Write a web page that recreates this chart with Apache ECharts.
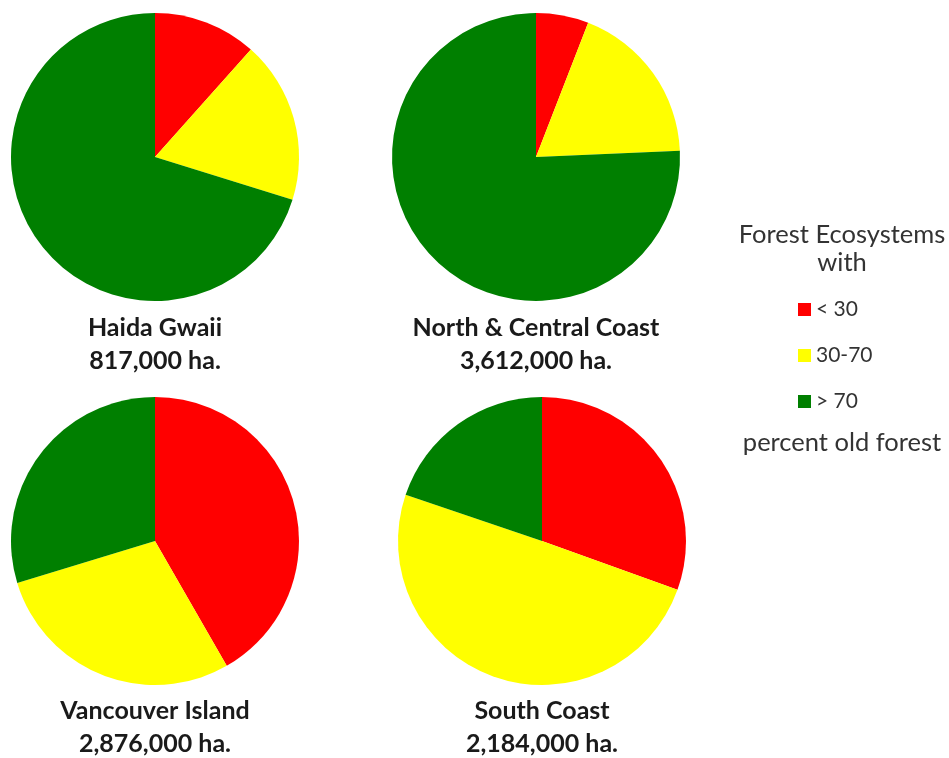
<!DOCTYPE html>
<html><head><meta charset="utf-8">
<script src="https://cdn.jsdelivr.net/npm/echarts@6/dist/echarts.min.js"></script>
<style>html,body{margin:0;padding:0;background:#fff}#c{width:949px;height:758px}</style>
</head><body><div id="c"></div>
<script>
const categories = ['< 30', '30-70', '> 70'];
const colors = ['#ff0000', '#ffff00', '#007f00'];
const regions = ['Haida Gwaii', 'North & Central Coast', 'Vancouver Island', 'South Coast'];
const areas = ['817,000 ha.', '3,612,000 ha.', '2,876,000 ha.', '2,184,000 ha.'];
const haidaGwaii = [11.6, 18.2, 70.2];
const northCentral = [5.9, 18.4, 75.7];
const vancouverIsland = [41.7, 28.6, 29.7];
const southCoast = [30.5, 49.7, 19.8];
const allValues = [haidaGwaii, northCentral, vancouverIsland, southCoast];

const centers = [[155, 157], [536, 157], [155, 541], [542, 541]];
const labelY = [[328, 361], [328, 361], [711, 744], [711, 744]];
const FONT = 'Lato, "Open Sans", sans-serif';

const series = allValues.map((vals, i) => ({
  type: 'pie', name: regions[i], center: centers[i], radius: 144,
  startAngle: 90, clockwise: true, animation: false,
  label: { show: false }, labelLine: { show: false },
  itemStyle: { borderWidth: 0 },
  emphasis: { disabled: true },
  data: vals.map((v, j) => ({ name: categories[j], value: v, itemStyle: { color: colors[j] } }))
}));

const graphics = [];
regions.forEach((r, i) => {
  graphics.push({ type: 'text', x: centers[i][0], y: labelY[i][0],
    style: { text: r, fontFamily: FONT, fontWeight: 'bold', fontSize: 25, fill: '#1a1a1a', textAlign: 'center', textVerticalAlign: 'middle' } });
  graphics.push({ type: 'text', x: centers[i][0], y: labelY[i][1],
    style: { text: areas[i], fontFamily: FONT, fontWeight: 'bold', fontSize: 25, fill: '#1a1a1a', textAlign: 'center', textVerticalAlign: 'middle' } });
});
[['Forest Ecosystems', 235], ['with', 263], ['percent old forest', 443]].forEach(([t, y]) => {
  graphics.push({ type: 'text', x: 842, y: y,
    style: { text: t, fontFamily: FONT, fontSize: 25.5, fill: '#333', textAlign: 'center', textVerticalAlign: 'middle' } });
});

const chart = echarts.init(document.getElementById('c'));
chart.setOption({
  backgroundColor: '#fff',
  animation: false,
  color: colors,
  legend: {
    orient: 'vertical', left: 798, top: 299, padding: 0,
    itemWidth: 13, itemHeight: 13, itemGap: 25, icon: 'rect',
    selectedMode: false,
    textStyle: { fontFamily: FONT, fontSize: 21, color: '#333' },
    data: categories
  },
  graphic: graphics,
  series: series
});
</script></body></html>
